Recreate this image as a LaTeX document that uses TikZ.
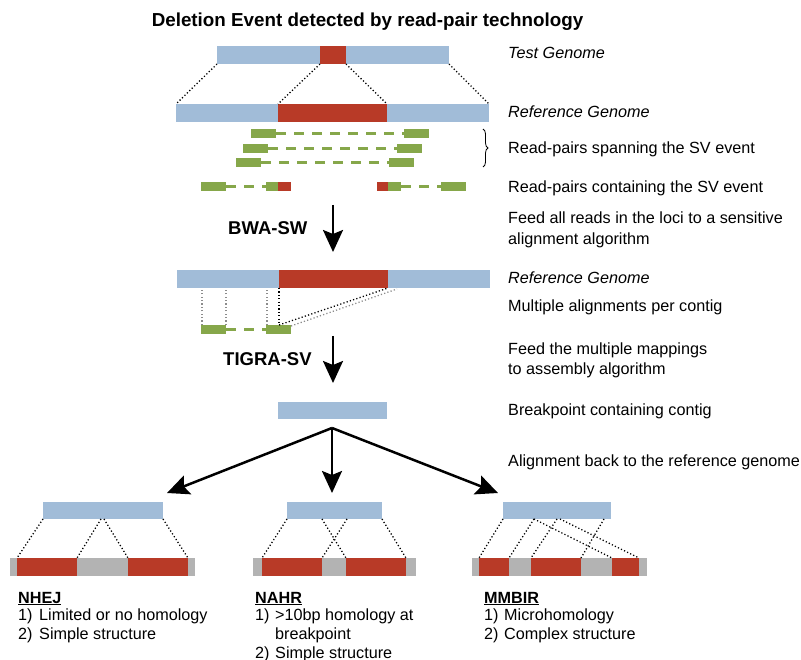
\documentclass[tikz,border=0pt]{standalone}
\usepackage{fontspec}
\setmainfont{Liberation Sans}
\usetikzlibrary{arrows.meta,decorations.pathreplacing}
\definecolor{barblue}{RGB}{161,188,216}
\definecolor{barred}{RGB}{184,58,39}
\definecolor{readgreen}{RGB}{134,167,74}
\definecolor{bargray}{RGB}{179,179,179}
\tikzset{
  seg/.style={inner sep=0pt, outer sep=0pt, anchor=north west, minimum height=#1},
  bluebar/.style={seg=18pt, fill=barblue},
  redbar/.style={seg=18pt, fill=barred},
  graybar/.style={seg=18pt, fill=bargray},
  contigbar/.style={seg=17pt, fill=barblue},
  readbox/.style={seg=9pt, fill=readgreen},
  redread/.style={seg=9pt, fill=barred},
  readlink/.style={draw=readgreen, line width=2.5pt, dash pattern=on 10pt off 8pt},
  dotline/.style={draw=black, line width=1.3pt, dash pattern=on 1.2pt off 2.2pt},
  graydot/.style={draw=black!45, line width=1.3pt, dash pattern=on 1.2pt off 2.2pt},
  bigarrow/.style={draw=black, line width=2.5pt, -{Stealth[length=22pt,width=20pt,inset=4pt]}},
  lab/.style={anchor=base west, inner sep=0pt, font=\fontsize{16.2}{20}\selectfont},
  itlab/.style={lab, font=\fontsize{16.2}{20}\selectfont\itshape},
  toollab/.style={anchor=base west, inner sep=0pt, font=\fontsize{18.5}{22}\selectfont\bfseries},
  headlab/.style={anchor=base west, inner sep=0pt, font=\fontsize{16.2}{20}\selectfont\bfseries},
}
\begin{document}
\begin{tikzpicture}[x=1pt,y=-1pt]
\useasboundingbox (0,0) rectangle (801,660);

% title
\node[anchor=base, inner sep=0pt, font=\fontsize{18.8}{22}\selectfont\bfseries] (title) at (367.5,27) {Deletion Event detected by read-pair technology};

% test genome and reference genome
\node[bluebar, minimum width=232pt] (test) at (217,46) {};
\node[redbar, minimum width=26pt] (testred) at (320,46) {};
\node[bluebar, minimum width=313pt] (ref) at (176,104) {};
\node[redbar, minimum width=109pt] (refred) at (278,104) {};
\draw[dotline] (test.south west) -- (ref.north west);
\draw[dotline] (testred.south west) -- (refred.north west);
\draw[dotline] (testred.south east) -- (refred.north east);
\draw[dotline] (test.south east) -- (ref.north east);

% read pairs spanning
\node[readbox, minimum width=25pt] (p1l) at (251,129) {};
\node[readbox, minimum width=25pt] (p1r) at (404,129) {};
\node[readbox, minimum width=25pt] (p2l) at (243,144) {};
\node[readbox, minimum width=25pt] (p2r) at (397,144) {};
\node[readbox, minimum width=25pt] (p3l) at (236,158) {};
\node[readbox, minimum width=25pt] (p3r) at (389,158) {};
\draw[readlink] (p1l.east) -- (p1r.west);
\draw[readlink] (p2l.east) -- (p2r.west);
\draw[readlink] (p3l.east) -- (p3r.west);
\draw[decorate, decoration={brace, amplitude=5pt}, line width=0.8pt] (483,129) coordinate (bt) -- (483,167) coordinate (bb);

% read pairs containing
\node[readbox, minimum width=25pt] (c1) at (201,182) {};
\node[readbox, minimum width=12pt] (c2) at (266,182) {};
\node[redread, minimum width=13pt] (c2r) at (278,182) {};
\node[redread, minimum width=11pt] (c3r) at (377,182) {};
\node[readbox, minimum width=13pt] (c3) at (388,182) {};
\node[readbox, minimum width=25pt] (c4) at (441,182) {};
\draw[readlink] (c1.east) -- (c2.west);
\draw[readlink] (c3.east) -- (c4.west);

% BWA-SW
\node[toollab] (bwa) at (228,234.5) {BWA-SW};
\coordinate (a1s) at (333,205);
\coordinate (a1e) at (333,252);
\draw[bigarrow] (a1s) -- (a1e);

% second reference and alignments
\node[bluebar, minimum width=313pt] (ref2) at (177,270) {};
\node[redbar, minimum width=109pt] (ref2red) at (279,270) {};
\node[readbox, minimum width=25pt] (m1) at (201,325) {};
\node[readbox, minimum width=25pt] (m2) at (266,325) {};
\draw[readlink] (m1.east) -- (m2.west);
\draw[graydot] ([xshift=1pt]m1.north west) -- ([xshift=1pt]m1.north west |- ref2.south);
\draw[graydot] (m1.north east) -- (m1.north east |- ref2.south);
\draw[graydot] ([xshift=1pt]m2.north west) -- ([xshift=1pt]m2.north west |- ref2.south);
\coordinate (jb) at (ref2red.south west |- m2.north);
\draw[dotline] (ref2red.south west) -- (jb);
\draw[dotline] (jb) -- (ref2red.south east);
\draw[graydot] ([yshift=-1pt]m2.north east) -- ([xshift=9pt,yshift=-1pt]ref2red.south east);

% TIGRA-SV
\node[toollab] (tigra) at (223,365.5) {TIGRA-SV};
\coordinate (a2s) at (333,336);
\coordinate (a2e) at (333,383);
\draw[bigarrow] (a2s) -- (a2e);

% contig and branches
\node[contigbar, minimum width=109pt] (contig) at (278,402) {};
\coordinate (br) at (332,428);
\coordinate (bl) at (167,493);
\coordinate (bm) at (332,493);
\coordinate (brt) at (498,493);
\draw[bigarrow] (br) -- (bl);
\draw[bigarrow] (br) -- (bm);
\draw[bigarrow] (br) -- (brt);

% NHEJ
\node[contigbar, minimum width=120pt] (n1c) at (43,502) {};
\node[graybar, minimum width=185pt] (n1b) at (10,558) {};
\node[redbar, minimum width=60pt] (n1r1) at (17,558) {};
\node[redbar, minimum width=60pt] (n1r2) at (128,558) {};
\coordinate (n1m1) at (101,519);
\coordinate (n1m2) at (104,519);
\draw[dotline] (n1c.south west) -- (n1r1.north west);
\draw[dotline] (n1m1) -- (n1r1.north east);
\draw[dotline] (n1m2) -- (n1r2.north west);
\draw[dotline] (n1c.south east) -- (n1r2.north east);

% NAHR
\node[contigbar, minimum width=95pt] (n2c) at (287,502) {};
\node[graybar, minimum width=163pt] (n2b) at (253,558) {};
\node[redbar, minimum width=60pt] (n2r1) at (262,558) {};
\node[redbar, minimum width=60pt] (n2r2) at (346,558) {};
\coordinate (n2m1) at (322,519);
\coordinate (n2m2) at (347,519);
\draw[dotline] (n2c.south west) -- (n2r1.north west);
\draw[dotline] (n2m1) -- (n2r2.north west);
\draw[dotline] (n2m2) -- (n2r1.north east);
\draw[dotline] (n2c.south east) -- (n2r2.north east);

% MMBIR
\node[contigbar, minimum width=108pt] (n3c) at (503,502) {};
\node[graybar, minimum width=175pt] (n3b) at (472,558) {};
\node[redbar, minimum width=30pt] (n3r1) at (479,558) {};
\node[redbar, minimum width=50pt] (n3r2) at (531,558) {};
\node[redbar, minimum width=27pt] (n3r3) at (612,558) {};
\coordinate (n3m1) at (534,519);
\coordinate (n3m2) at (557,519);
\coordinate (n3m3) at (560,519);
\coordinate (n3m4) at (604,519);
\draw[dotline] (n3c.south west) -- (n3r1.north west);
\draw[dotline] (n3m1) -- (n3r1.north east);
\draw[dotline] (n3m2) -- (n3r2.north west);
\draw[dotline] (n3m4) -- (n3r2.north east);
\draw[dotline] (n3m1) -- (n3r3.north west);
\draw[dotline] (n3m3) -- (n3r3.north east);

% right-hand labels
\node[itlab] (l1) at (508,59) {Test Genome};
\node[itlab] (l2) at (508,118) {Reference Genome};
\node[lab] (l3) at (508,154) {Read-pairs spanning the SV event};
\node[lab] (l4) at (508,193) {Read-pairs containing the SV event};
\node[lab] (l5a) at (508,224) {Feed all reads in the loci to a sensitive};
\node[lab] (l5b) at (508,245) {alignment algorithm};
\node[itlab] (l6) at (508,284) {Reference Genome};
\node[lab] (l7) at (508,312) {Multiple alignments per contig};
\node[lab] (l8a) at (508,355) {Feed the multiple mappings};
\node[lab] (l8b) at (508,375) {to assembly algorithm};
\node[lab] (l9) at (508,416) {Breakpoint containing contig};
\node[lab] (l10) at (508,466) {Alignment back to the reference genome};

% bottom labels
\node[headlab] (h1) at (18,603) {\underline{NHEJ}};
\node[lab] (h1n1) at (18,620) {1)};
\node[lab] (h1t1) at (39,620) {Limited or no homology};
\node[lab] (h1n2) at (18,639) {2)};
\node[lab] (h1t2) at (39,639) {Simple structure};

\node[headlab] (h2) at (255,603) {\underline{NAHR}};
\node[lab] (h2n1) at (255,620) {1)};
\node[lab] (h2t1) at (275,620) {>10bp homology at};
\node[lab] (h2t1b) at (275,639) {breakpoint};
\node[lab] (h2n2) at (255,658) {2)};
\node[lab] (h2t2) at (275,658) {Simple structure};

\node[headlab] (h3) at (484,603) {\underline{MMBIR}};
\node[lab] (h3n1) at (484,620) {1)};
\node[lab] (h3t1) at (504,620) {Microhomology};
\node[lab] (h3n2) at (484,639) {2)};
\node[lab] (h3t2) at (504,639) {Complex structure};
\end{tikzpicture}
\end{document}
